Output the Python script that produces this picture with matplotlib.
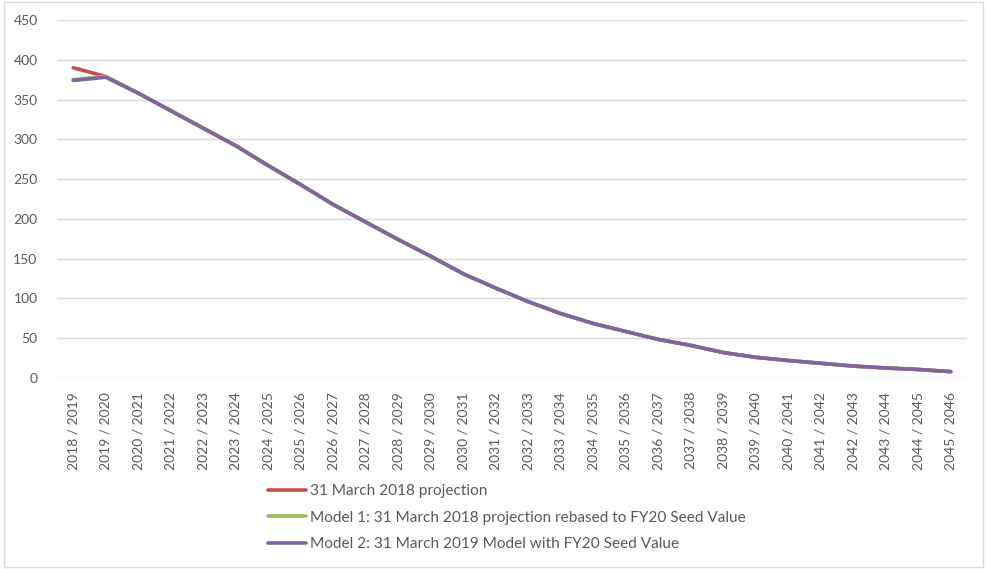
import matplotlib
matplotlib.use("Agg")
import matplotlib.pyplot as plt
from matplotlib.patches import Rectangle

plt.rcParams['font.family'] = ['Lato', 'DejaVu Sans']

# financial years on the category axis
years = [f"{y} / {y + 1}" for y in range(2018, 2046)]

# 31 March 2018 projection
proj_2018 = [390, 379, 358, 336, 314, 292, 267, 243, 218, 196,
             174, 153, 131, 113, 96, 81, 68.5, 58.5, 48.5, 41,
             32, 26, 22, 18.5, 15, 12.6, 10.7, 8]
# Model 1: rebased to FY20 seed value
model_1 = [375, 379, 358, 336, 314, 292, 267, 243, 218, 196,
           174, 153, 131, 113, 96, 81, 68.5, 58.5, 48.5, 41,
           32, 26, 22, 18.5, 15, 12.6, 10.7, 8]
# Model 2: 31 March 2019 model
model_2 = [374, 378, 358, 336, 314, 292, 267, 243, 218, 196,
           174, 153, 131, 113, 96, 81, 68.5, 58.5, 48.5, 41,
           32, 26, 22, 18.5, 15, 12.6, 10.7, 8]

labels = ["31 March 2018 projection",
          "Model 1: 31 March 2018 projection rebased to FY20 Seed Value",
          "Model 2: 31 March 2019 Model with FY20 Seed Value"]
colores = ["#C0504D", "#9BBB59", "#8064A2"]

fig = plt.figure(figsize=(9.87, 5.69), dpi=100)
ax = fig.add_axes([57 / 987, 1 - 378 / 569, 910 / 987, 358 / 569])

x = list(range(len(years)))
for serie, lab, col in zip([proj_2018, model_1, model_2], labels, colores):
    ax.plot(x, serie, color=col, linewidth=2.6, label=lab, solid_capstyle='round')

ax.set_xlim(-0.5, len(years) - 0.5)
ax.set_ylim(0, 450)
ax.set_yticks(range(0, 451, 50))
ax.set_xticks(x)
ax.set_xticklabels(years, rotation=90)
ax.tick_params(axis='both', length=0, labelsize=10, colors='#595959')
ax.tick_params(axis='x', pad=10)
ax.tick_params(axis='y', pad=14)
ax.grid(axis='y', color='#D9D9D9', linewidth=1)
ax.set_axisbelow(True)
for s in ax.spines.values():
    s.set_visible(False)

fig.legend(loc='upper left', bbox_to_anchor=(262 / 987, 1 - 478 / 569),
           frameon=False, fontsize=11.1, handlelength=2.45, handletextpad=0.25,
           labelspacing=0.82, labelcolor='#595959', borderaxespad=0)

# marco exterior del grafico
fig.patches.append(Rectangle((4 / 987, 2 / 569), 979 / 987, 565 / 569,
                             transform=fig.transFigure, fill=False,
                             edgecolor='#D9D9D9', linewidth=1))

fig.savefig("out.png", dpi=100)
